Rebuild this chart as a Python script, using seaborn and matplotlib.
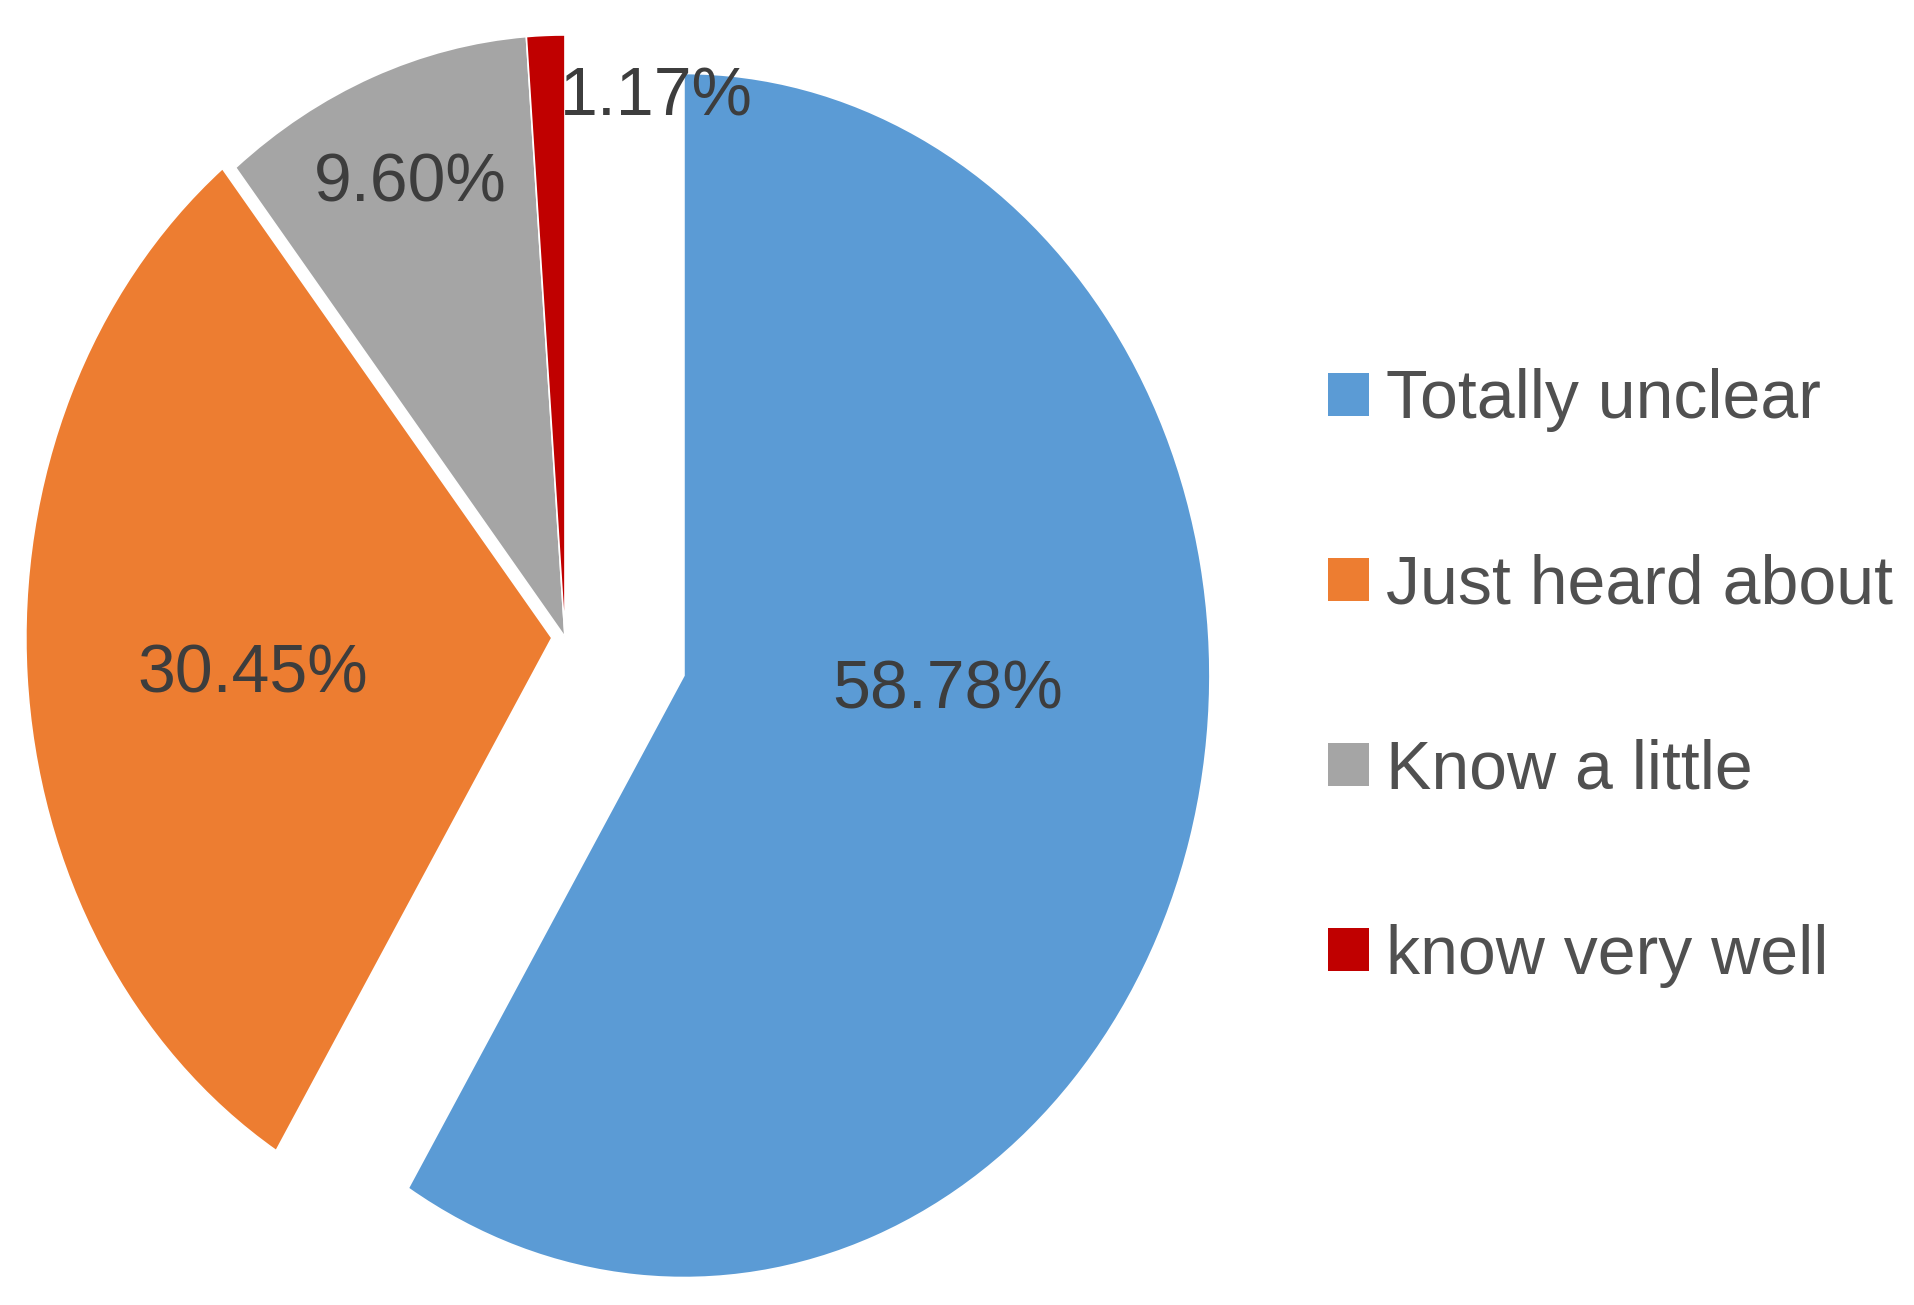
import numpy as np
import matplotlib
matplotlib.use("Agg")
import matplotlib.pyplot as plt
import seaborn as sns

# data
categories = ["Totally unclear", "Just heard about", "Know a little", "know very well"]
shares = [58.78, 30.45, 9.60, 1.17]
pct_labels = ["58.78%", "30.45%", "9.60%", "1.17%"]

# layout / style
colors = ["#5B9BD5", "#ED7D31", "#A5A5A5", "#C00000"]
explode = [0.235, 0.025, 0.0, 0.0]
label_xy = [(0.728, -0.118), (-0.593, -0.093), (-0.295, 0.724), (0.173, 0.867)]

sns.set_theme(style="white")
plt.rcParams["font.family"] = ["Liberation Sans", "DejaVu Sans"]

fig = plt.figure(figsize=(19.15, 13.05), dpi=100)
ax = fig.add_axes([0, 0, 1, 1])

wedges, _ = ax.pie(
    shares,
    colors=sns.color_palette(colors),
    explode=explode,
    startangle=90,
    counterclock=False,
    wedgeprops=dict(edgecolor="white", linewidth=1.2),
)

# picture is stretched vertically, so let the pie become an ellipse
ax.set_aspect("auto")
ax.set_xlim(-1.0741, 2.5665)
ax.set_ylim(-1.1096, 1.0581)
ax.axis("off")

for txt, (x, y) in zip(pct_labels, label_xy):
    ax.text(x, y, txt, ha="center", va="baseline", fontsize=49, color="#3d3d3d")

leg = ax.legend(
    wedges, categories,
    loc="center left", bbox_to_anchor=(0.6935, 0.4805),
    bbox_transform=fig.transFigure,
    frameon=False, fontsize=49,
    handlelength=0.6, handleheight=0.6, handletextpad=0.25,
    labelspacing=1.78, borderpad=0, borderaxespad=0,
)
for t in leg.get_texts():
    t.set_color("#505050")
for h in leg.legend_handles:
    h.set_linewidth(0)

fig.savefig("out.png", dpi=100, facecolor="white")
